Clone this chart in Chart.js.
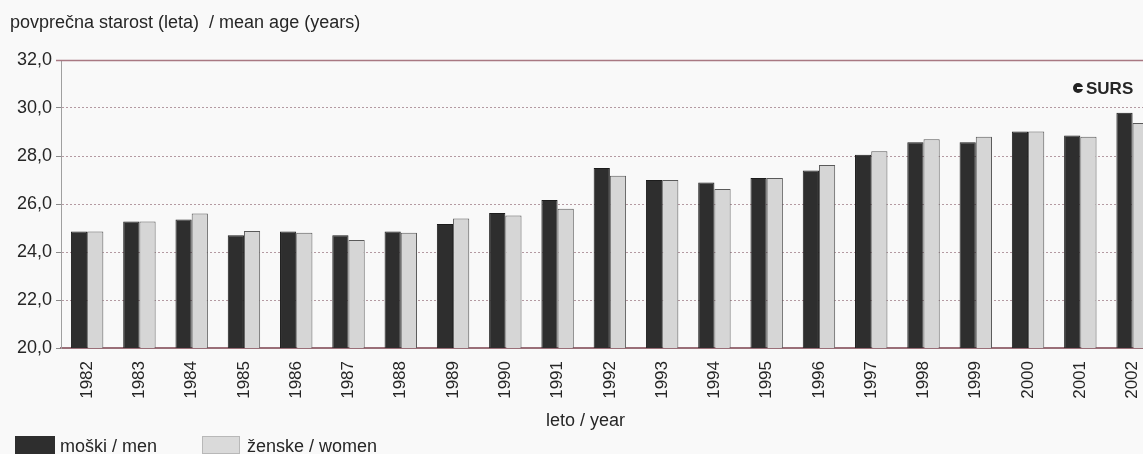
<!DOCTYPE html>
<html>
<head>
<meta charset="utf-8">
<script src="https://cdn.jsdelivr.net/npm/chart.js@4/dist/chart.umd.min.js"></script>
<style>
  html, body { margin:0; padding:0; background:#f9f9f9; overflow:hidden; width:1143px; height:454px; }
  #wrap { position:absolute; left:0; top:0; width:1166px; height:454px; }
  .t { position:absolute; font-family:"Liberation Sans", Arial, sans-serif; color:#262626; white-space:nowrap; line-height:1; }
  .sw { position:absolute; }
</style>
</head>
<body>
<div id="wrap"><canvas id="c" width="1166" height="454"></canvas></div>
<div class="t" style="left:10px;top:13px;font-size:18px;">povprečna starost (leta)&nbsp; / mean age (years)</div>
<div class="sw" style="left:1073px;top:83px;width:10px;height:10px;border-radius:50%;background:#222;"></div>
<div class="sw" style="left:1077px;top:87px;width:6px;height:2px;background:#f9f9f9;"></div>
<div class="t" style="left:1086px;top:80px;font-size:17px;font-weight:bold;">SURS</div>
<div class="t" style="left:546px;top:411px;font-size:18px;">leto / year</div>
<div class="sw" style="left:15px;top:436px;width:40px;height:18px;background:#2e2e2e;"></div>
<div class="t" style="left:60px;top:437px;font-size:18px;">moški / men</div>
<div class="sw" style="left:202px;top:436px;width:38px;height:18px;background:#dadada;border:1px solid #b8b8b8;box-sizing:border-box;"></div>
<div class="t" style="left:247px;top:437px;font-size:18px;">ženske / women</div>
<script>
const years = ['1982','1983','1984','1985','1986','1987','1988','1989','1990','1991','1992','1993','1994','1995','1996','1997','1998','1999','2000','2001','2002'];
const men   = [24.85,25.27,25.35,24.7,24.85,24.7,24.85,25.17,25.62,26.17,27.5,27.0,26.9,27.08,27.4,28.05,28.57,28.57,29.02,28.85,29.8];
const women = [24.85,25.27,25.6,24.88,24.8,24.5,24.8,25.4,25.52,25.8,27.18,27.0,26.62,27.08,27.62,28.2,28.7,28.8,29.02,28.8,29.38];
const yTicks = [20,22,24,26,28,30,32];

const topLine = {
  id: 'topLine',
  afterDraw(chart) {
    const { ctx, chartArea, scales } = chart;
    const y = Math.round(scales.y.getPixelForValue(32)) + 0.5;
    ctx.save();
    ctx.strokeStyle = '#a87882';
    ctx.lineWidth = 1.5;
    ctx.beginPath();
    ctx.moveTo(chartArea.left - 5, y);
    ctx.lineTo(chartArea.right, y);
    ctx.stroke();
    ctx.restore();
  }
};

new Chart(document.getElementById('c'), {
  type: 'bar',
  data: {
    labels: years,
    datasets: [
      { label: 'moški / men', data: men, backgroundColor: '#2e2e2e', borderColor: '#1c1c1c', borderWidth: 1,
        categoryPercentage: 0.62, barPercentage: 1.0 },
      { label: 'ženske / women', data: women, backgroundColor: '#d6d6d6', borderColor: '#5a5a5a', borderWidth: 1,
        categoryPercentage: 0.62, barPercentage: 1.0 }
    ]
  },
  options: {
    responsive: false,
    animation: false,
    devicePixelRatio: 1,
    layout: { padding: { top: 60, right: 0, left: 0, bottom: 0 } },
    plugins: { legend: { display: false }, tooltip: { enabled: false } },
    scales: {
      x: {
        grid: { display: false, drawTicks: false },
        border: { display: true, color: '#9a6f78', width: 2 },
        ticks: { maxRotation: 90, minRotation: 90, autoSkip: false, padding: 13,
                 color: '#262626', font: { family: '"Liberation Sans", Arial, sans-serif', size: 17 } },
        afterFit: (s) => { s.height = 106; }
      },
      y: {
        min: 20, max: 32,
        afterBuildTicks: (s) => { s.ticks = yTicks.map(v => ({ value: v })); },
        grid: {
          color: '#b49aa2',
          lineWidth: 1,
          tickLength: 5,
          tickColor: '#8a8a8a'
        },
        border: { display: true, color: '#a0a0a0', width: 1, dash: [2, 2] },
        ticks: { padding: 4, color: '#262626', font: { family: '"Liberation Sans", Arial, sans-serif', size: 18 },
                 callback: (v) => Number(v).toFixed(1).replace('.', ',') },
        afterFit: (s) => { s.width = 61; }
      }
    }
  },
  plugins: [topLine]
});
</script>
</body>
</html>
